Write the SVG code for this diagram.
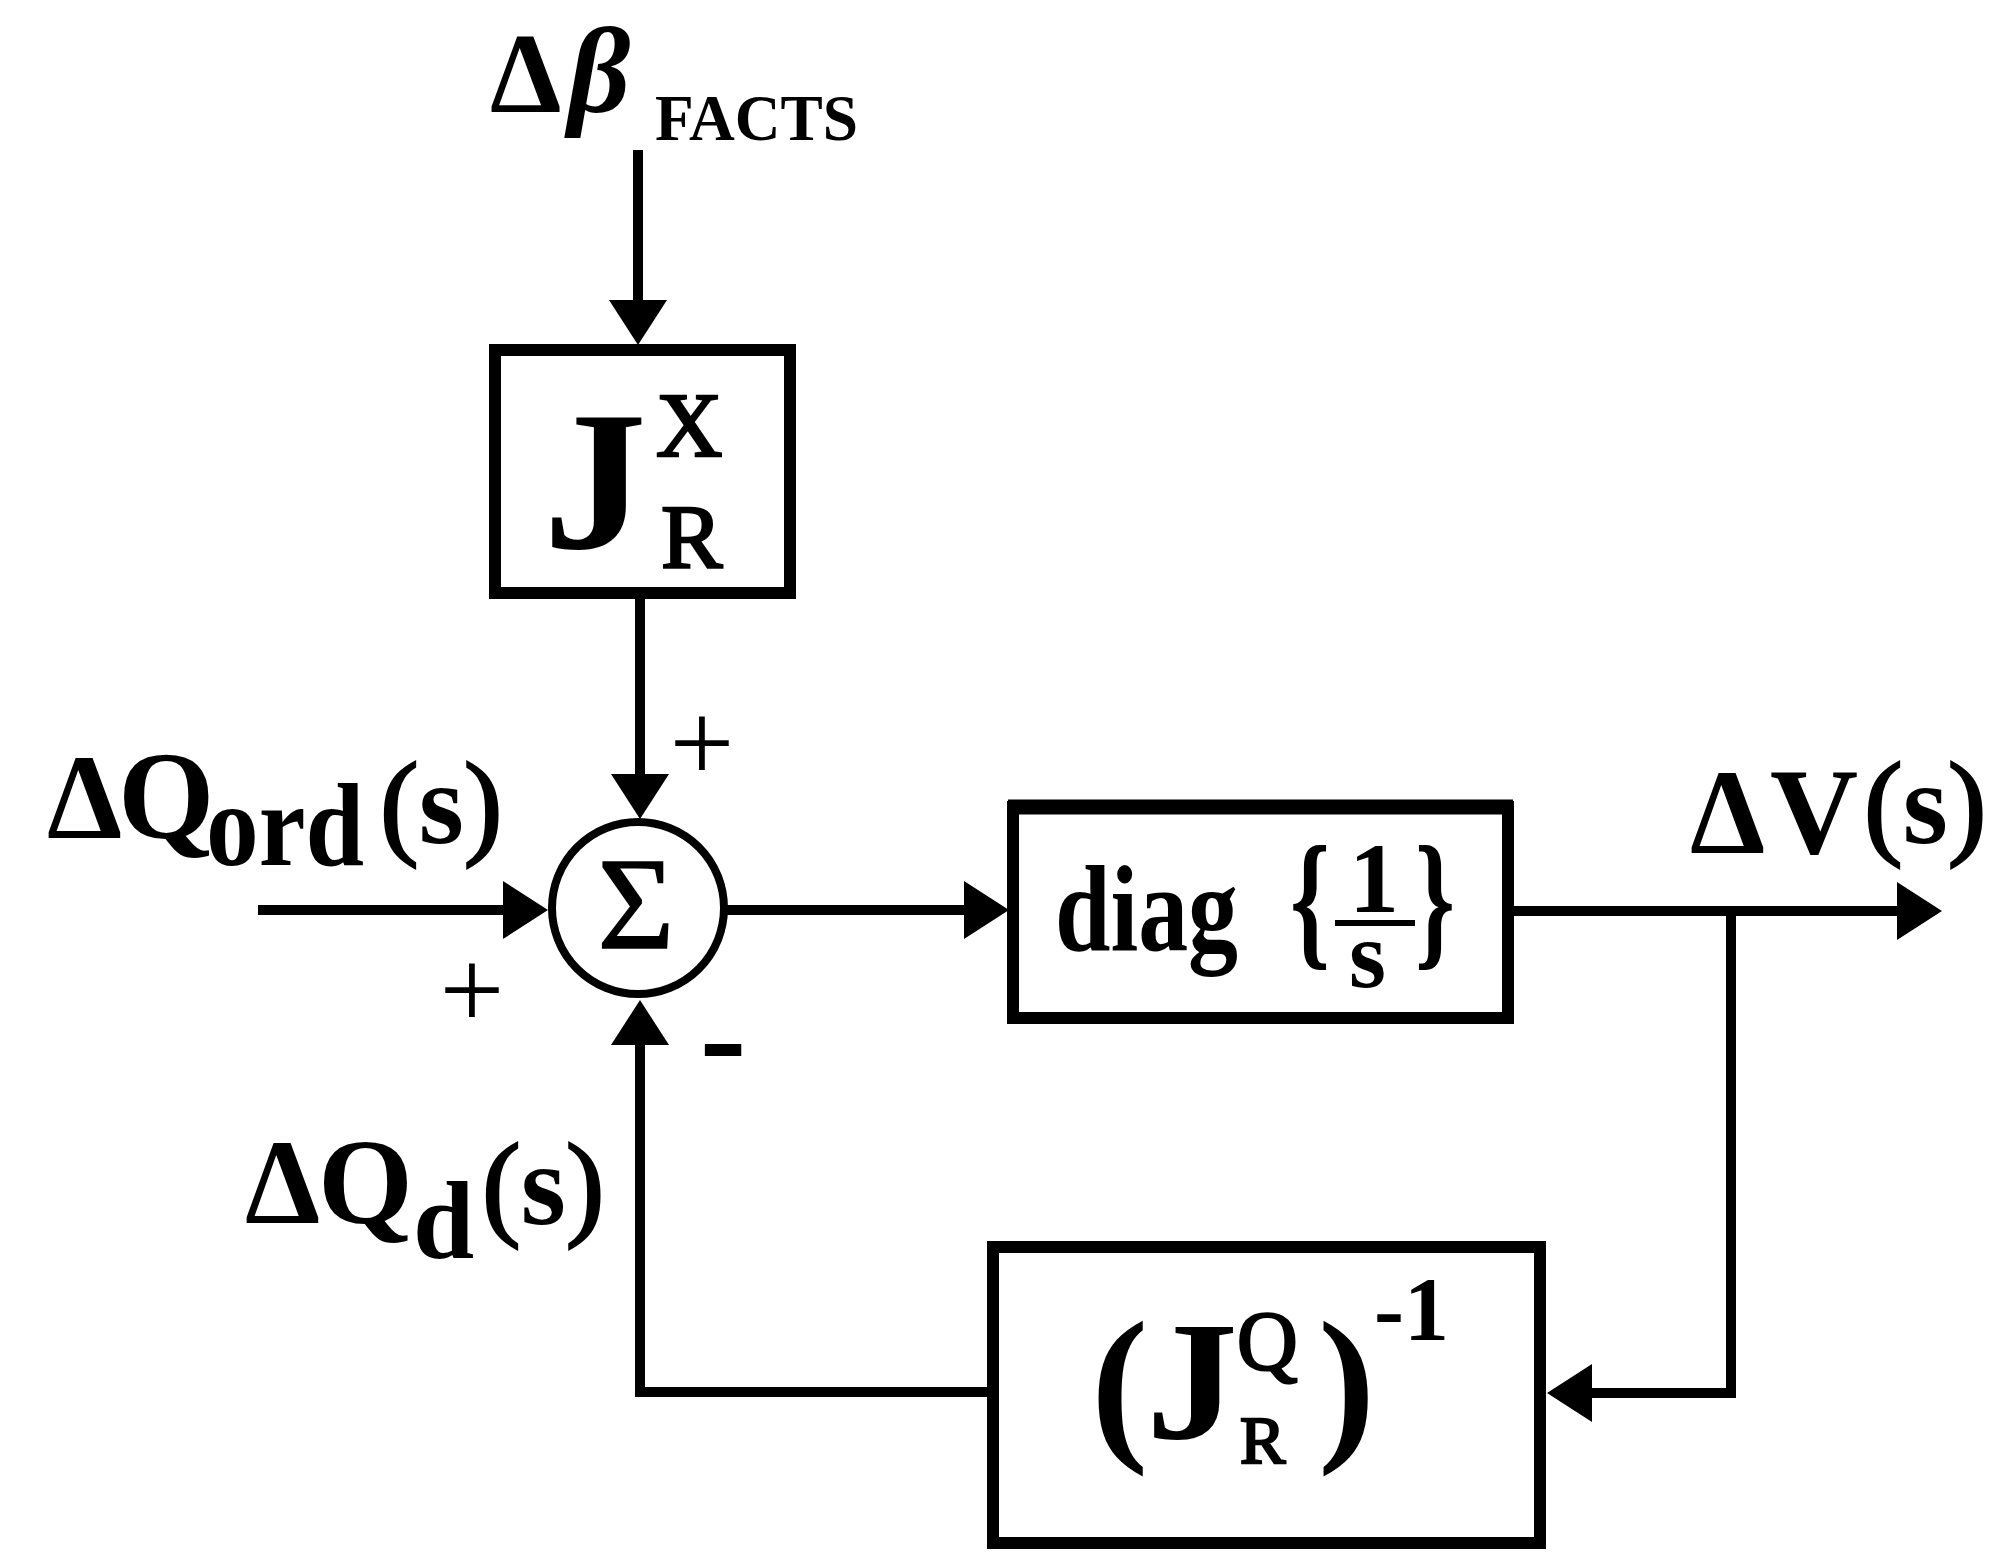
<svg xmlns="http://www.w3.org/2000/svg" width="1991" height="1557" viewBox="0 0 1991 1557">
<style>
text { font-family: "Liberation Serif", "Times New Roman", serif; fill: #000; }
.b { font-weight: bold; }
.n { font-weight: normal; }
.p { font-weight: normal; stroke: #000; stroke-width: 2.5; }
.box { fill: #fff; stroke: #000; stroke-width: 12; }
.wire { fill: none; stroke: #000; stroke-width: 10; stroke-linejoin: miter; }
</style>
<defs>
<marker id="ah" markerUnits="userSpaceOnUse" markerWidth="48" markerHeight="62" viewBox="0 0 48 62" refX="2" refY="31" orient="auto">
<path d="M0,2 L45,31 L0,60 z" fill="#000"/>
</marker>
</defs>
<rect width="1991" height="1557" fill="#fff"/>

<g id="connectors">
<path class="wire" d="M638,150 V302" marker-end="url(#ah)"/>
<path class="wire" d="M640,599 V776" marker-end="url(#ah)"/>
<path class="wire" d="M258,910 H505" marker-end="url(#ah)"/>
<path class="wire" d="M727,910 H966" marker-end="url(#ah)"/>
<path class="wire" d="M1512,911 H1899" marker-end="url(#ah)"/>
<path class="wire" d="M1731,911 V1393 H1590" marker-end="url(#ah)"/>
<path class="wire" d="M987,1392 H640 V1043" marker-end="url(#ah)"/>
</g>

<g id="label-dbeta">
<text class="b" x="490" y="112" font-size="114">Δ</text>
<text class="b" x="568" y="112" font-size="122" font-style="italic">β</text>
<text class="b" x="655" y="140" font-size="66" textLength="203" lengthAdjust="spacingAndGlyphs">FACTS</text>
</g>

<g id="node-JRX">
<rect class="box" x="495" y="350" width="295" height="243"/>
<text class="b" x="543" y="548" font-size="200" textLength="104" lengthAdjust="spacingAndGlyphs">J</text>
<text class="n" x="656" y="456" font-size="92" stroke="#000" stroke-width="2.5">X</text>
<text class="n" x="661" y="568" font-size="92" stroke="#000" stroke-width="2.5">R</text>
</g>

<g id="node-sum">
<circle cx="638" cy="908" r="86" fill="#fff" stroke="#000" stroke-width="8"/>
<text class="n" x="636" y="948" font-size="132" text-anchor="middle" stroke="#000" stroke-width="1.5">Σ</text>
</g>

<g id="signs">
<text class="n" x="702" y="781" font-size="115" text-anchor="middle">+</text>
<text class="n" x="472" y="1028" font-size="115" text-anchor="middle">+</text>
<text class="b" x="723" y="1083" font-size="140" text-anchor="middle">-</text>
</g>

<g id="label-dQord">
<text class="b" x="47" y="838" font-size="120">Δ</text>
<text class="b" x="118" y="838" font-size="124">Q</text>
<text class="b" x="206" y="865" font-size="118" textLength="158" lengthAdjust="spacingAndGlyphs">ord</text>
<text x="380" y="843" font-size="116"><tspan class="p">(</tspan><tspan class="b">s</tspan><tspan class="p">)</tspan></text>
</g>

<g id="node-diag">
<rect class="box" x="1013" y="807" width="495" height="211" stroke-width="10"/>
<line x1="1008" y1="807" x2="1513" y2="807" stroke="#000" stroke-width="15"/>
<text class="b" x="1055" y="950" font-size="122" textLength="183" lengthAdjust="spacingAndGlyphs">diag</text>
<text class="b" x="1290" y="950" font-size="150" textLength="40" lengthAdjust="spacingAndGlyphs">{</text>
<text class="b" x="1349" y="912" font-size="100">1</text>
<line x1="1335" y1="923" x2="1415" y2="923" stroke="#000" stroke-width="6"/>
<text class="b" x="1349" y="987" font-size="95">s</text>
<text class="b" x="1415" y="950" font-size="150" textLength="40" lengthAdjust="spacingAndGlyphs">}</text>
</g>

<g id="label-dV">
<text class="b" x="1690" y="853" font-size="120">Δ</text>
<text class="b" x="1770" y="853" font-size="122">V</text>
<text x="1864" y="843" font-size="116"><tspan class="p">(</tspan><tspan class="b">s</tspan><tspan class="p">)</tspan></text>
</g>

<g id="label-dQd">
<text class="b" x="245" y="1223" font-size="120">Δ</text>
<text class="b" x="318" y="1223" font-size="122">Q</text>
<text class="b" x="413" y="1258" font-size="110">d</text>
<text x="482" y="1224" font-size="116"><tspan class="p">(</tspan><tspan class="b">s</tspan><tspan class="p">)</tspan></text>
</g>

<g id="node-JRQ">
<rect class="box" x="993" y="1247" width="547" height="296"/>
<text class="b" x="1091" y="1440" font-size="172">(</text>
<text class="b" x="1146" y="1438" font-size="170" textLength="92" lengthAdjust="spacingAndGlyphs">J</text>
<text class="n" x="1237" y="1370" font-size="84" stroke="#000" stroke-width="2.5">Q</text>
<text class="n" x="1240" y="1463" font-size="68" stroke="#000" stroke-width="2.5">R</text>
<text class="b" x="1318" y="1440" font-size="172">)</text>
<text class="b" x="1374" y="1340" font-size="90">-1</text>
</g>
</svg>
